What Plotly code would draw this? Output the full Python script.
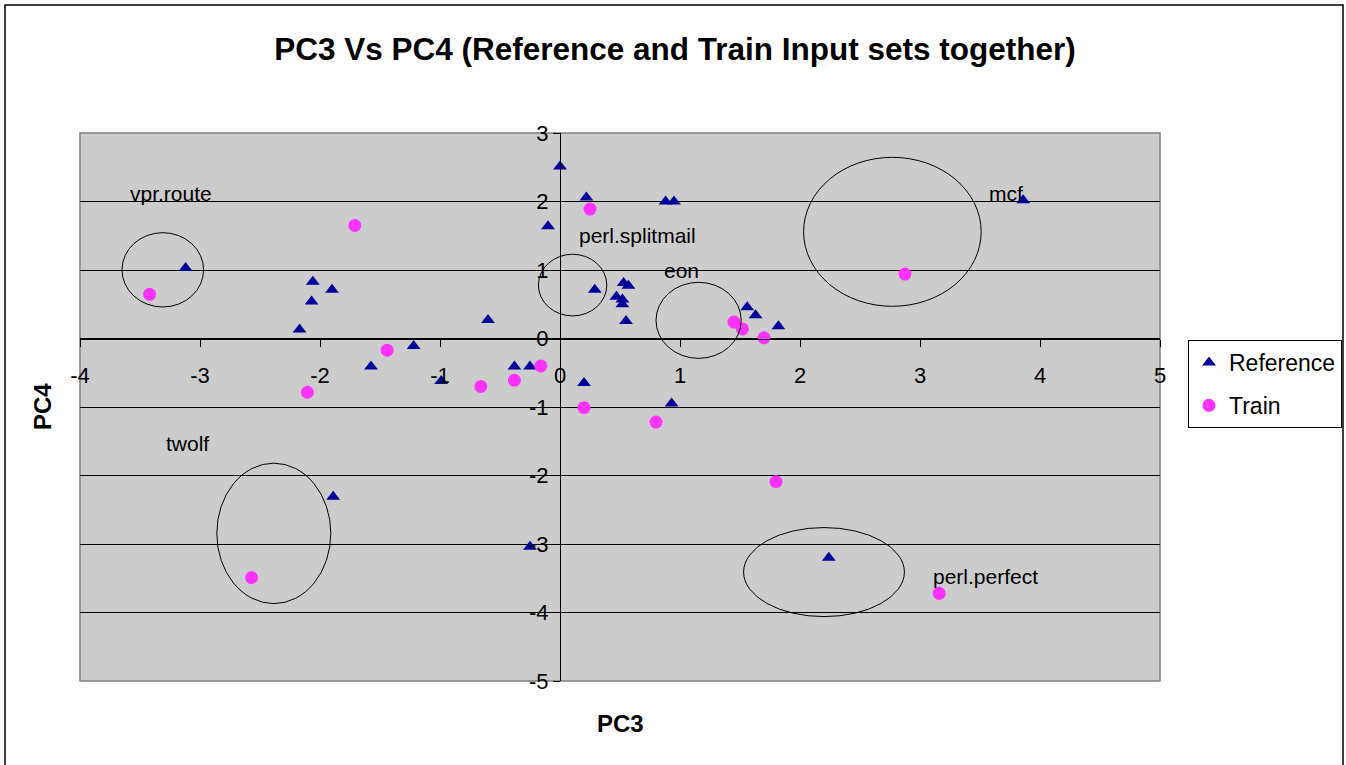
import plotly.graph_objects as go

# Data
ref_x = [-3.12, -2.06, -1.90, -2.07, -2.17, -0.60, -1.22, 0.00, -0.10, -1.575, -0.99,
         -0.38, -0.25, -1.89, -0.25, 0.22, 0.88, 0.95, 3.86, 0.29, 0.53, 0.57, 0.47,
         0.52, 0.52, 0.55, 0.20, 0.93, 1.56, 1.63, 1.82, 2.24]
ref_y = [1.03, 0.83, 0.71, 0.54, 0.13, 0.27, -0.11, 2.51, 1.64, -0.41, -0.62,
         -0.41, -0.41, -2.31, -3.04, 2.06, 2.00, 2.00, 2.02, 0.71, 0.81, 0.77, 0.61,
         0.57, 0.50, 0.255, -0.65, -0.95, 0.455, 0.34, 0.18, -3.20]

train_x = [-3.42, -1.71, -1.44, -2.105, -0.66, -0.38, -0.16, -2.57, 0.25, 2.875,
           0.20, 0.80, 1.45, 1.52, 1.70, 1.80, 3.16]
train_y = [0.645, 1.65, -0.17, -0.785, -0.70, -0.61, -0.40, -3.49, 1.89, 0.94,
           -1.01, -1.22, 0.24, 0.14, 0.01, -2.09, -3.72]

x_ticks = [-4, -3, -2, -1, 0, 1, 2, 3, 4, 5]
x_tick_text = ["-4", "-3", "-2", "-1", "0", "1", "2", "3", "4", "5"]
y_ticks = [-5, -4, -3, -2, -1, 0, 1, 2, 3]
y_tick_text = ["-5", "-4", "-3", "-2", "-1", "0", "1", "2", "3"]

# Circled groups: label, label position, ellipse bounds (x0, x1, y0, y1)
group_labels = ["vpr.route", "perl.splitmail", "eon", "mcf", "twolf", "perl.perfect"]
label_x = [-3.6, 0.14, 0.85, 3.56, -3.3, 3.09]
label_y = [2.12, 1.50, 1.00, 2.11, -1.54, -3.48]
ell_x0 = [-3.65, -0.18, 0.80, 2.03, -2.86, 1.53]
ell_x1 = [-2.97, 0.39, 1.51, 3.51, -1.91, 2.87]
ell_y0 = [0.46, 0.33, -0.29, 0.47, -3.87, -4.06]
ell_y1 = [1.545, 1.23, 0.82, 2.645, -1.82, -2.76]

FONT = "Liberation Sans, Arial, sans-serif"
XMIN, XMAX, YMIN, YMAX = -4, 5, -5, 3

fig = go.Figure()
fig.add_trace(go.Scatter(
    x=ref_x, y=ref_y, mode="markers", name="Reference", legendgroup="ref",
    marker=dict(symbol="triangle-up", size=12, color="#000099"),
))
fig.add_trace(go.Scatter(
    x=train_x, y=train_y, mode="markers", name="Train", legendgroup="train",
    marker=dict(symbol="circle", size=13, color="#ff33ff"),
))

shapes = []
for i in range(len(group_labels)):
    shapes.append(dict(type="circle", xref="x", yref="y",
                       x0=ell_x0[i], x1=ell_x1[i], y0=ell_y0[i], y1=ell_y1[i],
                       line=dict(color="black", width=1), layer="above"))
# plot-area border
shapes.append(dict(type="rect", xref="paper", yref="paper", x0=0, x1=1, y0=0, y1=1,
                   line=dict(color="#808080", width=1.5), layer="below"))
# outer chart border
shapes.append(dict(type="rect", xref="paper", yref="paper",
                   x0=(5 - 80) / 1080, x1=(1343 - 80) / 1080,
                   y0=(681 - 790) / 548, y1=(681 - 5) / 548,
                   line=dict(color="black", width=1.5), layer="above"))

annotations = []
for i in range(len(group_labels)):
    annotations.append(dict(x=label_x[i], y=label_y[i], xref="x", yref="y",
                            text=group_labels[i], showarrow=False, xanchor="left",
                            yanchor="middle", font=dict(family=FONT, size=21, color="black")))
annotations.append(dict(x=(620 - 80) / 1080, y=(681 - 723) / 548, xref="paper", yref="paper",
                        text="<b>PC3</b>", showarrow=False, xanchor="center", yanchor="middle",
                        font=dict(family=FONT, size=24, color="black")))
annotations.append(dict(x=(42 - 80) / 1080, y=(681 - 407) / 548, xref="paper", yref="paper",
                        text="<b>PC4</b>", showarrow=False, textangle=-90, xanchor="center",
                        yanchor="middle", font=dict(family=FONT, size=24, color="black")))

fig.update_layout(
    width=1346, height=765, autosize=False,
    margin=dict(l=80, r=186, t=133, b=84, autoexpand=False),
    paper_bgcolor="white", plot_bgcolor="#cccccc",
    title=dict(text="<b>PC3 Vs PC4 (Reference and Train Input sets together)</b>",
               x=675 / 1346, xanchor="center", y=1 - 49 / 765, yanchor="middle",
               font=dict(family=FONT, size=31.5, color="black")),
    xaxis=dict(range=[XMIN, XMAX], tickvals=x_ticks, ticktext=x_tick_text,
               showgrid=False, zeroline=False,
               showline=True, linecolor="black", linewidth=1,
               anchor="free", position=(0 - YMIN) / (YMAX - YMIN),
               ticks="outside", ticklen=7, tickcolor="black",
               ticklabelstandoff=10, automargin=False,
               tickfont=dict(family=FONT, size=22, color="black")),
    yaxis=dict(range=[YMIN, YMAX], tickvals=y_ticks, ticktext=y_tick_text,
               showgrid=True, gridcolor="black",
               gridwidth=1, zeroline=False, showline=True, linecolor="black", linewidth=1,
               anchor="free", position=(0 - XMIN) / (XMAX - XMIN),
               ticks="outside", ticklen=7, tickcolor="black", automargin=False,
               tickfont=dict(family=FONT, size=22, color="black")),
    legend=dict(x=(1188 - 80) / 1080, y=(681 - 340) / 548, xanchor="left", yanchor="top",
                bgcolor="white", bordercolor="black", borderwidth=1,
                font=dict(family=FONT, size=23, color="black"), itemwidth=30,
                tracegroupgap=10),
    shapes=shapes, annotations=annotations, showlegend=True,
)

fig.write_html(
    "out.html",
    config={"responsive": False, "displayModeBar": False},
    post_script=(
        "document.body.style.margin='0';"
        "document.body.style.overflow='hidden';"
        "document.documentElement.style.overflow='hidden';"
    ),
)
